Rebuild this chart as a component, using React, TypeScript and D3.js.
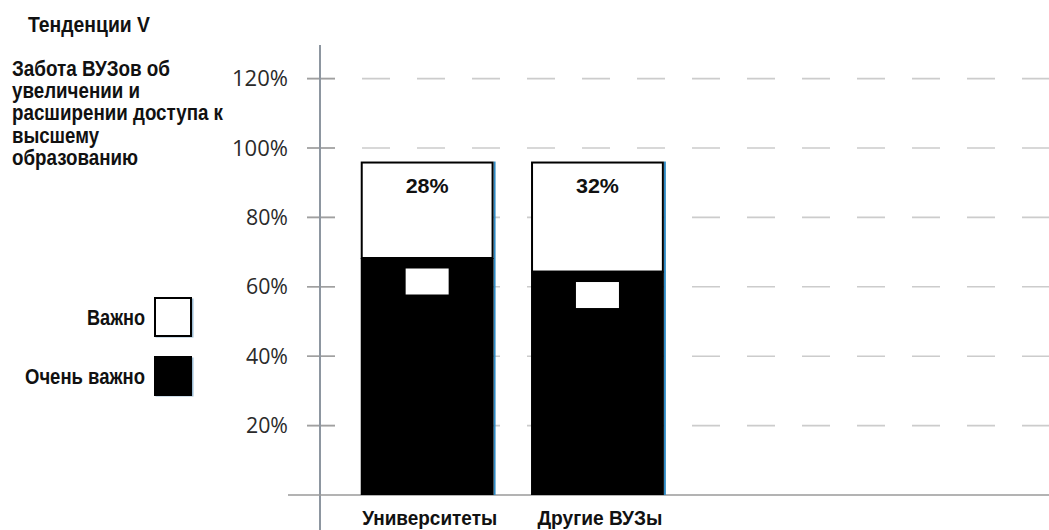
import React from "react";
import * as d3 from "d3";

const categories = ["Университеты", "Другие ВУЗы"];
const veryImportant = [68.3, 64.4];
const important = [27.8, 31.7];
const yTicks = [20, 40, 60, 80, 100, 120];
const titleText = "Тенденции V";
const subtitleLines = ["Забота ВУЗов об", "увеличении и", "расширении доступа к", "высшему", "образованию"];
const subtitleWidths = [158, 128, 211, 87, 126];
const legendItems = ["Важно", "Очень важно"];

const W = 1049;
const H = 530;

export default function App() {
  const y = d3.scaleLinear().domain([0, 120]).range([495, 78.6]);
  const x = d3.scaleBand<string>().domain(categories).range([342, 682.6]).paddingInner(0.22).paddingOuter(0.11);
  const bw = x.bandwidth();
  const font = "'Liberation Sans', Arial, sans-serif";
  const catWidths = [135, 125];
  const legendWidths = [58, 120];
  const fs = 21.5;

  return (
    <svg width={W} height={H} style={{ position: "absolute", left: 0, top: 0, background: "#fff" }}>
      <rect x={0} y={0} width={W} height={H} fill="#fff" />
      <text x={28} y={31.5} fontFamily={font} fontWeight="bold" fontSize={fs} fill="#111" textLength={122} lengthAdjust="spacingAndGlyphs">
        {titleText}
      </text>
      {subtitleLines.map((s, i) => (
        <text key={s} x={12} y={76 + i * 22.2} fontFamily={font} fontWeight="bold" fontSize={fs} fill="#111"
          textLength={subtitleWidths[i]} lengthAdjust="spacingAndGlyphs">
          {s}
        </text>
      ))}
      {yTicks.map((t) => (
        <g key={t}>
          <line x1={307} x2={W} y1={y(t)} y2={y(t)} stroke="#cccccc" strokeWidth={1.6} strokeDasharray="28,27" />
          <line x1={307} x2={335} y1={y(t)} y2={y(t)} stroke="#a0a0a0" strokeWidth={1.6} />
          <text x={288} y={y(t) + 7.5} textAnchor="end" fontFamily="'Open Sans', sans-serif" fontSize={21} fill="#2a2a2a"
            textLength={t >= 100 ? 56 : 42} lengthAdjust="spacingAndGlyphs">
            {t}%
          </text>
        </g>
      ))}
      <line x1={320} x2={320} y1={45} y2={H} stroke="#8d96a0" strokeWidth={2} />
      <line x1={288} x2={W} y1={y(0)} y2={y(0)} stroke="#9a9a9a" strokeWidth={1.6} />
      {categories.map((c, i) => {
        const x0 = x(c)!;
        const v = veryImportant[i];
        const tot = v + important[i];
        const cx = x0 + bw / 2;
        return (
          <g key={c}>
            <rect x={x0 + bw} y={y(tot)} width={2} height={y(0) - y(tot)} fill="#2f8ac4" />
            <rect x={x0} y={y(v)} width={bw} height={y(0) - y(v)} fill="#000" />
            <rect x={x0 + 1} y={y(tot) + 1} width={bw - 2} height={y(v) - y(tot) - 1} fill="#fff" stroke="#000" strokeWidth={2} />
            <rect x={cx - 21.5} y={y(v) + 10.5} width={43} height={26} fill="#fff" />
            <text x={cx} y={y(tot) + 31} textAnchor="middle" fontFamily={font} fontWeight="bold" fontSize={21} fill="#111"
              textLength={43} lengthAdjust="spacingAndGlyphs">
              {Math.round(important[i])}%
            </text>
            <text x={cx + 2.5} y={524.5} textAnchor="middle" fontFamily={font} fontWeight="bold" fontSize={20} fill="#111"
              textLength={catWidths[i]} lengthAdjust="spacingAndGlyphs">
              {c}
            </text>
          </g>
        );
      })}
      {legendItems.map((l, i) => {
        const top = i === 0 ? 297 : 356;
        return (
          <g key={l}>
            <rect x={155.5} y={top + 1.5} width={38} height={39} fill="#5a8fb8" opacity={0.6} />
            <rect x={155} y={top + 1} width={36} height={38} fill={i === 0 ? "#fff" : "#000"} stroke="#000" strokeWidth={2} />
            <text x={145} y={top + 28} textAnchor="end" fontFamily={font} fontWeight="bold" fontSize={fs} fill="#111"
              textLength={legendWidths[i]} lengthAdjust="spacingAndGlyphs">
              {l}
            </text>
          </g>
        );
      })}
    </svg>
  );
}
